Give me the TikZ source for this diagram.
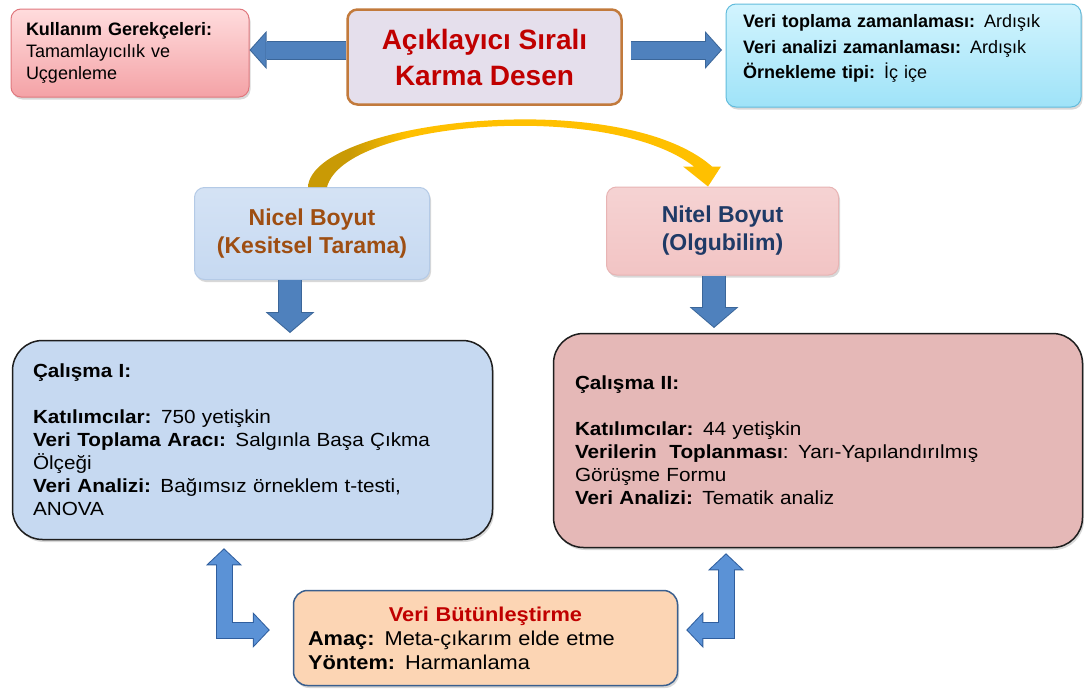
\documentclass[tikz,border=0pt]{standalone}
\usepackage{fontspec}
\setmainfont{Liberation Sans}
\newfontfamily\widesans{Liberation Sans}[FakeStretch=1.09]
\usepackage{xcolor}
\usepackage{tikz}
\usetikzlibrary{arrows.meta,calc,shadows}

\definecolor{reasontop}{HTML}{FFDCDD}
\definecolor{reasonbot}{HTML}{F4A2A6}
\definecolor{reasonedge}{HTML}{E0787E}
\definecolor{titlefill}{HTML}{E5DFEC}
\definecolor{titleedge}{HTML}{C27A3C}
\definecolor{titlered}{HTML}{C00000}
\definecolor{designtop}{HTML}{D2F4FE}
\definecolor{designbot}{HTML}{9FE3F8}
\definecolor{designedge}{HTML}{62BCDC}
\definecolor{nicelfill}{HTML}{C6D9F1}
\definecolor{niceledge}{HTML}{B4CAE6}
\definecolor{niceltext}{HTML}{9E4E12}
\definecolor{nitelfill}{HTML}{F2C4C4}
\definecolor{niteledge}{HTML}{E8B4B4}
\definecolor{niteltext}{HTML}{1F3A66}
\definecolor{studyonefill}{HTML}{C6D9F1}
\definecolor{studytwofill}{HTML}{E5B8B7}
\definecolor{studyedge}{HTML}{1E1E1E}
\definecolor{verifill}{HTML}{FCD5B4}
\definecolor{veriedge}{HTML}{3A5F8E}
\definecolor{blkfill}{HTML}{4F81BD}
\definecolor{blkedge}{HTML}{3B6699}
\definecolor{lfill}{HTML}{5B92D6}
\definecolor{ledge}{HTML}{2F5E9E}
\definecolor{arcgold}{HTML}{FFC000}
\definecolor{arcdark}{HTML}{C99A05}

\pgfdeclarehorizontalshading{arcshade}{100bp}{color(0bp)=(arcdark); color(30bp)=(arcdark); color(37bp)=(arcgold); color(100bp)=(arcgold)}

\tikzset{
  roundbox/.style={rounded corners=10pt, inner sep=0pt, line width=1pt,
    drop shadow={opacity=0.3, shadow xshift=1.5pt, shadow yshift=-2.5pt}},
  studybox/.style={roundbox, rounded corners=30pt, draw=studyedge, line width=1.5pt,
    align=left, font=\widesans\fontsize{19}{23}\selectfont},
  topblk/.style={draw=blkfill, line width=17pt, shorten >=1.4pt,
    -{Triangle[length=14.6pt, width=33pt, line width=0pt]},
    preaction={draw=blkedge, line width=19pt, shorten >=0pt,
      -{Triangle[length=17pt, width=38pt, line width=0pt]}}},
  downblk/.style={draw=blkfill, line width=22pt, shorten >=1.4pt,
    -{Triangle[length=18.6pt, width=44pt, line width=0pt]},
    preaction={draw=blkedge, line width=24pt, shorten >=0pt,
      -{Triangle[length=21pt, width=49pt, line width=0pt]}}},
  lblk/.style={draw=lfill, line width=15pt, shorten >=1.4pt, shorten <=1.4pt,
    {Triangle[length=14.6pt, width=31pt, line width=0pt]}-{Triangle[length=14.6pt, width=31pt, line width=0pt]},
    preaction={draw=ledge, line width=17pt, shorten >=0pt, shorten <=0pt,
      {Triangle[length=17pt, width=36pt, line width=0pt]}-{Triangle[length=17pt, width=36pt, line width=0pt]}}},
}

\begin{document}
\begin{tikzpicture}[x=1pt,y=1pt,yscale=-1,xscale=1]
\useasboundingbox (0,0) rectangle (1084,688);
\fill[white] (0,0) rectangle (1084,688);

% top row
\node[roundbox, top color=reasontop, bottom color=reasonbot, draw=reasonedge,
  minimum width=238pt, minimum height=88pt, text width=208pt, align=left,
  font=\fontsize{18}{22}\selectfont] (reason) at (130,53)
  {\textbf{Kullanım Gerekçeleri:}\\Tamamlayıcılık ve\\Uçgenleme};
\node[rounded corners=10pt, fill=titlefill, draw=titleedge, line width=2.5pt,
  minimum width=274pt, minimum height=95pt, align=center, text=titlered,
  font=\fontsize{28}{36}\selectfont\bfseries] (title) at (484.5,57)
  {Açıklayıcı Sıralı\\Karma Desen};
\node[roundbox, top color=designtop, bottom color=designbot, draw=designedge,
  minimum width=355pt, minimum height=103pt, text width=321pt, align=left,
  text depth=69pt, font=\fontsize{18}{25.5}\selectfont] (design) at (903.5,55.5)
  {\textbf{Veri toplama zamanlaması:} Ardışık\\
   \textbf{Veri analizi zamanlaması:} Ardışık\\
   \textbf{Örnekleme tipi:} İç içe};

% dimensions
\node[roundbox, top color=nicelfill!75!white, bottom color=nicelfill, draw=niceledge,
  minimum width=235pt, minimum height=92pt, align=center, text=niceltext,
  font=\fontsize{23}{28}\selectfont\bfseries] (nicel) at (312,233.5)
  {Nicel Boyut\\(Kesitsel Tarama)};
\node[roundbox, top color=nitelfill!75!white, bottom color=nitelfill, draw=niteledge,
  minimum width=232pt, minimum height=88pt, align=center, text=niteltext,
  font=\fontsize{23}{28}\selectfont\bfseries] (nitel) at (722.5,231)
  {Nitel Boyut\\(Olgubilim)};

% studies
\node[studybox, fill=studyonefill, minimum width=480pt, minimum height=199pt,
  text width=439pt] (study1) at (252.5,440)
  {\textbf{Çalışma I:}\\[23pt]
   \textbf{Katılımcılar:} 750 yetişkin\\
   \textbf{Veri Toplama Aracı:} Salgınla Başa Çıkma\\
   Ölçeği\\
   \textbf{Veri Analizi:} Bağımsız örneklem t-testi,\\
   ANOVA};
\node[studybox, fill=studytwofill, minimum width=529pt, minimum height=214pt,
  text width=486pt] (study2) at (818,440.5)
  {\textbf{Çalışma II:}\\[23pt]
   \textbf{Katılımcılar:} 44 yetişkin\\
   \textbf{Verilerin~ Toplanması}: Yarı-Yapılandırılmış\\
   Görüşme Formu\\
   \textbf{Veri Analizi:} Tematik analiz};

\node[roundbox, rounded corners=14pt, fill=verifill, draw=veriedge, line width=1.5pt,
  minimum width=384pt, minimum height=95pt, text width=355pt, align=left,
  font=\widesans\fontsize{20}{24}\selectfont] (veri) at (485.5,638)
  {\makebox[355pt]{\textcolor{titlered}{\textbf{Veri Bütünleştirme}}}\\
   \textbf{Amaç:} Meta-çıkarım elde etme\\
   \textbf{Yöntem:} Harmanlama};

% block arrows
\coordinate (rtip) at (722,50);
\draw[topblk] (title.west |- rtip) -- (reason.east |- rtip);
\draw[topblk] ($(title.east |- rtip)+(8,0)$) -- (rtip);

\coordinate (d1) at (290,333);
\coordinate (d2) at (714,328);
\draw[downblk] (d1 |- nicel.south) -- (d1);
\draw[downblk] (d2 |- nitel.south) -- (d2);

\coordinate (lup) at ($(study1.south)+(-28.5,8)$);
\coordinate (lright) at ($(veri.west)+(-23,-8)$);
\draw[lblk] (lup) |- (lright);
\coordinate (rup) at ($(study2.south)+(-92,5)$);
\coordinate (rleft) at ($(veri.east)+(8,-8)$);
\draw[lblk] (rup) |- (rleft);

% curved arrow
\coordinate (arctip) at ([xshift=-14.5pt]nitel.north);
\shade[shading=arcshade] ([xshift=-4pt]nicel.north)
  .. controls +(4,-67) and +(-92,-81) .. ($(arctip)+(4,-20)$)
  -- ($(arctip)+(13,-20)$) -- (arctip) -- ($(arctip)+(-25,-20)$)
  -- ($(arctip)+(-14,-20)$)
  .. controls +(-85,-66) and +(18,-67) .. ([xshift=15pt]nicel.north) -- cycle;

\end{tikzpicture}
\end{document}
